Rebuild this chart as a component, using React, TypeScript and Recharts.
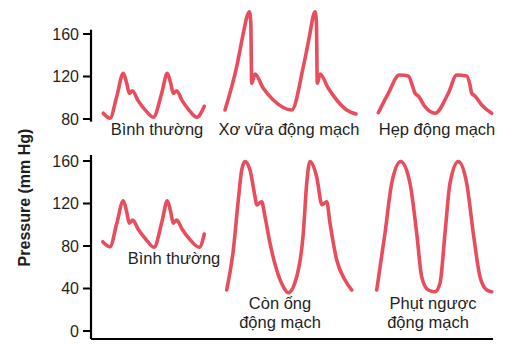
import { LineChart, Line, XAxis, YAxis, ReferenceLine } from "recharts";

// time in seconds, pressure in mm Hg
type Pt = { t: number; p: number };
const pts = (rows: [number, number][]): Pt[] => rows.map(([t, p]) => ({ t, p }));

const normalTop = pts([
  [0.123, 85.4], [0.19, 80.7], [0.257, 101], [0.323, 123], [0.357, 113.6], [0.383, 104.2],
  [0.413, 106.6], [0.47, 97.5], [0.543, 88.4], [0.623, 81.6], [0.707, 104.2], [0.763, 123],
  [0.797, 113.6], [0.823, 104.2], [0.857, 106.6], [0.91, 97.5], [0.98, 88.4], [1.057, 81.6],
  [1.133, 92],
]);

const sclerosis = pts([
  [1.34, 88.5], [1.457, 129.2], [1.523, 160.7], [1.562, 177], [1.583, 181], [1.598, 171],
  [1.607, 113.6], [1.64, 122.4], [1.723, 108.9], [1.823, 97.9], [2.007, 88.5], [2.123, 129.2],
  [2.19, 160.7], [2.222, 177], [2.24, 181], [2.254, 171], [2.263, 113.6], [2.29, 122.4],
  [2.373, 108.9], [2.457, 97.9], [2.557, 88.5], [2.65, 84.7],
]);

const stenosis = pts([
  [2.873, 85.9], [2.973, 104.2], [3.083, 121.4], [3.173, 120.5], [3.217, 110.4], [3.24, 104.2],
  [3.273, 101.6], [3.34, 91.6], [3.44, 85.4], [3.573, 104.2], [3.657, 121.4], [3.757, 120.5],
  [3.79, 112], [3.807, 104.2], [3.84, 101.6], [3.907, 93.2], [4.007, 85.4],
]);

const normalBottom = pts([
  [0.117, 84], [0.19, 79.3], [0.257, 101], [0.323, 122.6], [0.357, 112], [0.383, 101.5],
  [0.417, 104.5], [0.47, 96], [0.543, 87], [0.63, 78.8], [0.71, 103], [0.763, 122.6],
  [0.797, 112], [0.823, 101.5], [0.857, 104.5], [0.91, 96], [0.99, 86], [1.083, 78.8],
  [1.133, 91.3],
]);

const ductus = pts([
  [1.357, 38.6], [1.423, 76], [1.473, 123.3], [1.507, 151.5], [1.54, 159.4], [1.59, 151.5],
  [1.64, 126.4], [1.657, 118.6], [1.707, 121.7], [1.74, 107.6], [1.79, 82.6], [1.857, 57.4],
  [1.923, 41.7], [1.973, 36], [2.057, 51], [2.123, 92], [2.157, 139], [2.19, 159.4],
  [2.257, 145], [2.31, 118.8], [2.357, 121.7], [2.39, 101.4], [2.457, 66.8], [2.54, 48],
  [2.607, 38.6],
]);

const regurgitation = pts([
  [2.857, 38.6], [2.94, 92], [3.007, 139], [3.097, 159.4], [3.19, 139], [3.257, 92],
  [3.307, 51], [3.373, 38.6], [3.44, 37], [3.49, 45], [3.54, 92], [3.59, 139], [3.673, 159.4],
  [3.757, 139], [3.823, 92], [3.89, 51], [3.957, 38.6], [4.007, 37],
]);

const topTicks = [80, 120, 160];
const bottomTicks = [0, 40, 80, 120, 160];

const FONT = '"Liberation Sans", Arial, sans-serif';
const RED = "#e84d5d";
const INK = "#1f1f1f";
const tickStyle = { fontSize: 16, fill: INK, fontFamily: FONT };

const wave = (data: Pt[], key: string) => (
  <Line
    key={key}
    data={data}
    dataKey="p"
    type="monotone"
    stroke={RED}
    strokeWidth={3.6}
    strokeLinecap="round"
    strokeLinejoin="round"
    dot={false}
    activeDot={false}
    isAnimationActive={false}
  />
);

export default function App() {
  return (
    <div style={{ position: "absolute", left: 0, top: 0, width: 521, height: 352, background: "#fff", fontFamily: FONT }}>
      <div style={{ position: "absolute", left: 0, top: 0 }}>
        <LineChart width={521} height={140} margin={{ top: 7.44, right: 28, bottom: 18.34, left: 0 }}>
          <XAxis dataKey="t" type="number" domain={[0, 4.02]} hide />
          <YAxis
            type="number"
            domain={[77.5, 185]}
            ticks={topTicks}
            width={91}
            axisLine={false}
            tickLine={{ stroke: "#000", strokeWidth: 2 }}
            tickSize={8}
            tickMargin={4}
            tick={tickStyle}
          />
          <ReferenceLine segment={[{ x: 0, y: 77.5 }, { x: 0, y: 164 }]} stroke="#000" strokeWidth={2.2} />
          {wave(normalTop, "n1")}
          {wave(sclerosis, "s")}
          {wave(stenosis, "h")}
        </LineChart>
      </div>
      <div style={{ position: "absolute", left: 0, top: 140 }}>
        <LineChart width={521} height={212} margin={{ top: 15, right: 28, bottom: 0, left: 0 }}>
          <XAxis
            dataKey="t"
            type="number"
            domain={[0, 4.02]}
            height={13}
            tick={false}
            tickLine={false}
            axisLine={{ stroke: "#000", strokeWidth: 2.2 }}
          />
          <YAxis
            type="number"
            domain={[-7.53, 165.65]}
            ticks={bottomTicks}
            width={91}
            axisLine={{ stroke: "#000", strokeWidth: 2.2 }}
            tickLine={{ stroke: "#000", strokeWidth: 2 }}
            tickSize={8}
            tickMargin={4}
            tick={tickStyle}
          />
          {wave(normalBottom, "n2")}
          {wave(ductus, "d")}
          {wave(regurgitation, "r")}
        </LineChart>
      </div>
      <svg width={521} height={352} style={{ position: "absolute", left: 0, top: 0, pointerEvents: "none" }}>
        <g fontFamily={FONT} fontSize={16.5} fill={INK} textAnchor="middle">
          <text x={157} y={135}>Bình thường</text>
          <text x={289} y={135}>Xơ vữa động mạch</text>
          <text x={437} y={135}>Hẹp động mạch</text>
          <text x={174} y={264}>Bình thường</text>
          <text x={280} y={309}>Còn ống</text>
          <text x={280} y={328}>động mạch</text>
          <text x={433} y={309}>Phụt ngược</text>
          <text x={428} y={328}>động mạch</text>
          <text transform="translate(30 197.5) rotate(-90)" fontWeight="bold" fontSize={16}>Pressure (mm Hg)</text>
        </g>
      </svg>
    </div>
  );
}
